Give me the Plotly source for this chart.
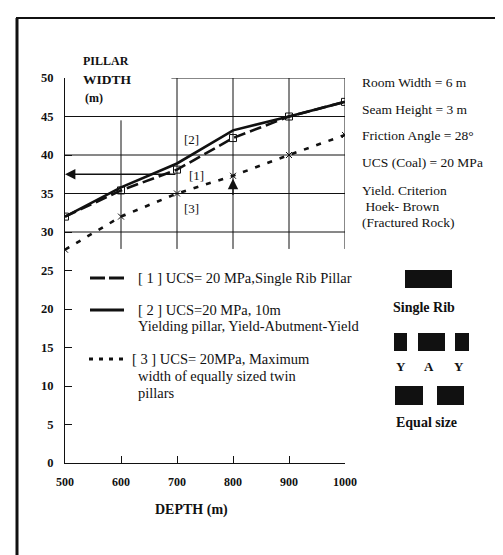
import plotly.graph_objects as go

# ---------------- data ----------------
depth = [500, 600, 700, 800, 900, 1000]
single_rib = [32.0, 35.4, 38.1, 42.2, 45.0, 46.9]        # [1] dashed
yield_abut_yield = [32.0, 35.8, 38.9, 43.2, 45.0, 46.9]  # [2] solid
equal_twin = [27.7, 32.0, 35.0, 37.3, 40.0, 42.6]        # [3] dotted

y_ticks = [0, 5, 10, 15, 20, 25, 30, 35, 40, 45, 50]
x_ticks = [500, 600, 700, 800, 900, 1000]
grid_y = [30, 35, 40, 45, 50]
grid_x = [600, 700, 800, 900, 1000]

right_notes = ["Room Width = 6 m", "Seam Height = 3 m", "Friction Angle = 28°",
               "UCS (Coal) = 20 MPa", "Yield. Criterion", " Hoek- Brown", "(Fractured Rock)"]
legend_lines = [
    ["[ 1 ] UCS= 20 MPa,Single Rib Pillar"],
    ["[ 2 ] UCS=20 MPa, 10m", "Yielding pillar, Yield-Abutment-Yield"],
    ["[ 3 ] UCS= 20MPa, Maximum", "width of equally sized twin", "pillars"],
]

# ---------------- layout geometry (pixels) ----------------
W, H = 503, 555
L, R, T, B = 57, 337, 70, 455   # plot area


def px(x):
    return (x - L) / (R - L)


def py(y):
    return (B - y) / (B - T)


FONT = "Liberation Serif"
BLACK = "#111111"

fig = go.Figure()

fig.add_trace(go.Scatter(x=depth, y=yield_abut_yield, mode="lines",
                         line=dict(color=BLACK, width=2.6), showlegend=False))
fig.add_trace(go.Scatter(x=depth, y=single_rib, mode="lines+markers",
                         line=dict(color=BLACK, width=2.6, dash="12px,5px"),
                         marker=dict(symbol="square-open", size=7, color=BLACK,
                                     line=dict(width=1)),
                         showlegend=False))
fig.add_trace(go.Scatter(x=depth, y=equal_twin, mode="lines+markers",
                         line=dict(color=BLACK, width=2.6, dash="5px,8px"),
                         marker=dict(symbol="x-thin-open", size=6, color=BLACK,
                                     line=dict(width=1)),
                         showlegend=False))

shapes = []
# grid
for gy in grid_y:
    x0 = 690 if gy == 50 else 500
    shapes.append(dict(type="line", xref="x", yref="y", x0=x0, x1=1000, y0=gy, y1=gy,
                       line=dict(color=BLACK, width=1), layer="below"))
for gx in grid_x:
    y1 = 44.5 if gx == 600 else 50
    shapes.append(dict(type="line", xref="x", yref="y", x0=gx, x1=gx, y0=27.8, y1=y1,
                       line=dict(color=BLACK, width=1), layer="below"))

# frame of the scanned figure
shapes.append(dict(type="line", xref="paper", yref="paper", x0=px(8), x1=px(503),
                   y0=py(10), y1=py(10), line=dict(color=BLACK, width=2)))
shapes.append(dict(type="line", xref="paper", yref="paper", x0=px(9), x1=px(9),
                   y0=py(10), y1=py(555), line=dict(color=BLACK, width=3)))
shapes.append(dict(type="line", xref="paper", yref="paper", x0=px(80), x1=px(203),
                   y0=py(553), y1=py(553), line=dict(color=BLACK, width=1)))

# legend samples
shapes.append(dict(type="line", xref="paper", yref="paper", x0=px(82), x1=px(97),
                   y0=py(270), y1=py(270), line=dict(color=BLACK, width=3)))
shapes.append(dict(type="line", xref="paper", yref="paper", x0=px(101), x1=px(116),
                   y0=py(270), y1=py(270), line=dict(color=BLACK, width=3)))
shapes.append(dict(type="line", xref="paper", yref="paper", x0=px(82), x1=px(116),
                   y0=py(302), y1=py(302), line=dict(color=BLACK, width=3)))
for dx in (83, 93, 103, 113):
    shapes.append(dict(type="line", xref="paper", yref="paper", x0=px(dx - 2), x1=px(dx + 2),
                       y0=py(351), y1=py(351), line=dict(color=BLACK, width=3)))

# pillar icons
for (x0, x1, y0, y1) in [(397, 444, 262, 280),
                         (386, 399, 325, 343), (410, 437, 325, 343), (447, 461, 325, 343),
                         (387, 415, 378, 397), (429, 456, 378, 397)]:
    shapes.append(dict(type="rect", xref="paper", yref="paper", x0=px(x0), x1=px(x1),
                       y0=py(y0), y1=py(y1), fillcolor=BLACK, line=dict(width=0)))

annotations = []


def txt(x, y, s, size=13, bold=False, anchor="left"):
    annotations.append(dict(xref="paper", yref="paper", x=px(x), y=py(y), text=s,
                            showarrow=False, xanchor=anchor, yanchor="middle",
                            font=dict(family=FONT, size=size, color=BLACK,
                                      weight="bold" if bold else "normal")))


# y title
txt(73, 53, "PILLAR", 12, True)
txt(73, 71, "WIDTH", 13.5, True)
txt(75, 90, "(m)", 12, True)
# x title
txt(183, 502, "DEPTH (m)", 14, True, "center")

# right notes
for s, y in zip(right_notes, [74, 101, 127, 154, 182, 198, 214]):
    txt(352, y, s, 13.5)

# legend text
leg_y = [[270], [302, 318], [351, 368, 385]]
leg_x = [[128], [128, 128], [122, 128, 128]]
for lines, ys, xs in zip(legend_lines, leg_y, leg_x):
    for s, y, x in zip(lines, ys, xs):
        txt(x, y, s, 14.5)

# icon captions
txt(416, 299, "Single Rib", 14, True, "center")
for s, x in [("Y", 393), ("A", 421), ("Y", 451)]:
    txt(x, 358, s, 13, True, "center")
txt(418, 414, "Equal size", 14, True, "center")

# series labels
annotations.append(dict(x=725, y=42.0, xref="x", yref="y", text="[2]", showarrow=False,
                        font=dict(family=FONT, size=13, color=BLACK)))
annotations.append(dict(x=735, y=37.3, xref="x", yref="y", text="[1]", showarrow=False,
                        font=dict(family=FONT, size=13, color=BLACK)))
annotations.append(dict(x=725, y=33.0, xref="x", yref="y", text="[3]", showarrow=False,
                        font=dict(family=FONT, size=13, color=BLACK)))
# arrows
annotations.append(dict(x=500, y=37.5, ax=700, ay=37.5, xref="x", yref="y", axref="x", ayref="y",
                        text="", showarrow=True, arrowhead=2, arrowsize=1.6, arrowwidth=1.3,
                        arrowcolor=BLACK))
annotations.append(dict(x=800, y=36.9, ax=800, ay=34.6, xref="x", yref="y", axref="x", ayref="y",
                        text="", showarrow=True, arrowhead=2, arrowsize=1.6, arrowwidth=1.3,
                        arrowcolor=BLACK))

fig.update_layout(
    width=W, height=H, autosize=False,
    margin=dict(l=L, r=W - R, t=T, b=H - B, pad=0),
    paper_bgcolor="white", plot_bgcolor="white",
    font=dict(family=FONT, color=BLACK),
    shapes=shapes, annotations=annotations, showlegend=False,
    xaxis=dict(range=[500, 1000], tickvals=x_ticks, ticktext=[str(v) for v in x_ticks],
               showgrid=False, zeroline=False, showline=True, linecolor=BLACK, linewidth=1,
               ticks="inside", ticklen=7, tickcolor=BLACK, tickwidth=1,
               ticklabelstandoff=8, tickfont=dict(family=FONT, size=12, color=BLACK, weight="bold")),
    yaxis=dict(range=[0, 50], tickvals=y_ticks, showgrid=False, zeroline=False,
               showline=True, linecolor=BLACK, linewidth=1.2,
               ticks="inside", ticklen=7, tickcolor=BLACK, tickwidth=1,
               ticklabelstandoff=8, tickfont=dict(family=FONT, size=12.5, color=BLACK, weight="bold")),
)

fig.write_html("out.html")
